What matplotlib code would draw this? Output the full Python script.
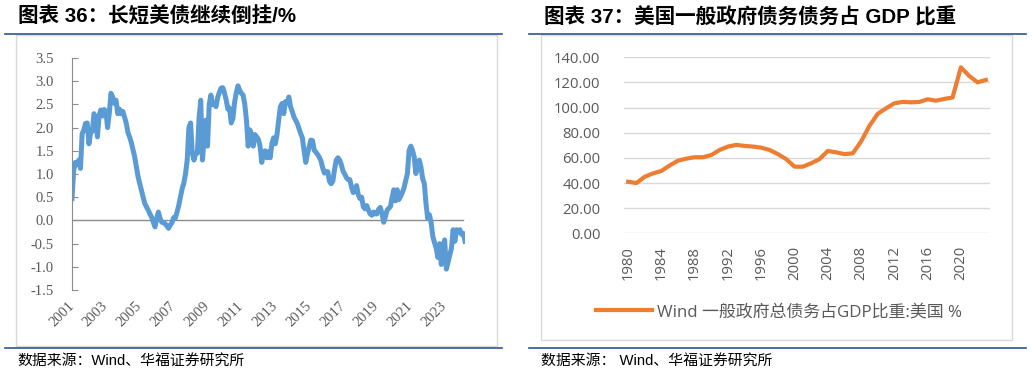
import numpy as np
import matplotlib
matplotlib.use("Agg")
import matplotlib.pyplot as plt
from matplotlib.lines import Line2D
from matplotlib.patches import Rectangle

# --- left chart: long-short treasury spread (%), sampled every 0.1 year from 2001.0
spread_start = 2001.0
spread_step = 0.1
spread = [
    0.47, 1.08, 1.25, 1.20, 1.30, 1.12, 1.87, 1.95, 2.09, 2.10,
    1.65, 1.90, 1.92, 2.30, 2.20, 1.80, 2.25, 2.38, 2.25, 2.39,
    2.35, 2.00, 2.30, 2.74, 2.66, 2.52, 2.59, 2.30, 2.40, 2.30,
    2.35, 2.23, 2.10, 1.90, 1.80, 1.68, 1.52, 1.37, 1.15, 0.94,
    0.79, 0.65, 0.50, 0.36, 0.29, 0.22, 0.14, 0.07, -0.04, -0.14,
    0.04, 0.18, 0.04, -0.04, -0.05, -0.07, -0.12, -0.17, -0.10, -0.05,
    0.06, 0.05, 0.18, 0.32, 0.50, 0.68, 0.80, 1.00, 1.30, 2.00,
    2.10, 1.45, 1.30, 1.45, 1.45, 2.20, 2.59, 1.30, 1.75, 2.16,
    1.60, 2.50, 2.70, 2.50, 2.50, 2.45, 2.65, 2.76, 2.85, 2.86,
    2.75, 2.60, 2.40, 2.42, 2.10, 2.20, 2.55, 2.75, 2.90, 2.80,
    2.74, 2.70, 2.50, 2.15, 1.60, 1.95, 1.85, 1.60, 1.85, 1.80,
    1.75, 1.60, 1.25, 1.45, 1.50, 1.35, 1.48, 1.35, 1.65, 1.78,
    1.65, 1.84, 2.16, 2.45, 2.52, 2.30, 2.56, 2.52, 2.66, 2.45,
    2.35, 2.23, 2.16, 2.09, 1.98, 1.87, 1.78, 1.50, 1.25, 1.44,
    1.58, 1.73, 1.72, 1.51, 1.47, 1.42, 1.36, 1.28, 1.13, 1.02,
    1.05, 1.05, 0.84, 0.79, 0.85, 1.10, 1.30, 1.35, 1.30, 1.20,
    1.06, 1.00, 0.92, 0.88, 0.88, 0.72, 0.60, 0.68, 0.75, 0.55,
    0.47, 0.50, 0.29, 0.25, 0.32, 0.22, 0.14, 0.11, 0.18, 0.14,
    0.14, 0.24, 0.28, 0.15, -0.04, 0.08, 0.22, 0.26, 0.30, 0.50,
    0.66, 0.42, 0.66, 0.45, 0.52, 0.60, 0.70, 0.86, 1.01, 1.51,
    1.60, 1.51, 1.37, 1.01, 1.22, 1.30, 1.15, 0.90, 0.79, 0.35,
    0.04, 0.12, -0.05, -0.35, -0.48, -0.60, -0.80, -0.50, -0.95, -0.60,
    -0.42, -1.05, -0.90, -0.75, -0.60, -0.20, -0.45, -0.20, -0.25, -0.20,
    -0.30, -0.28, -0.45,
]
left_ticks = list(range(2001, 2024, 2))

# --- right chart: US general government debt / GDP
debt_years = list(range(1980, 2024))
debt_ratio = [
    41.0, 40.0, 45.0, 47.7, 49.6, 54.0, 57.8, 59.4, 60.5, 60.5,
    62.3, 66.3, 69.0, 70.3, 69.5, 69.0, 68.1, 66.3, 63.0, 59.0,
    53.0, 53.0, 55.7, 59.0, 65.5, 64.4, 63.0, 63.6, 73.0, 85.4,
    95.0, 99.4, 103.4, 104.5, 104.2, 104.5, 106.6, 105.5, 106.9, 108.0,
    132.0, 125.2, 120.1, 122.0,
]
right_ticks = list(range(1980, 2021, 4))

W, H = 1032, 371
fig = plt.figure(figsize=(W / 100, H / 100), dpi=100)

def fx(px):
    return px / W

def fy(py):
    return 1 - py / H

cjk = ["Liberation Sans", "Noto Sans CJK SC"]
frame_blue = "#2F5496"
box_gray = "#D9D9D9"
label_gray = "#595959"

# frames, separators
for x0, x1 in [(5, 502), (529, 1026)]:
    for y in [34, 348]:
        fig.add_artist(Line2D([fx(x0), fx(x1)], [fy(y), fy(y)], color=frame_blue, lw=1.2))
fig.add_artist(Rectangle((fx(16), fy(346)), fx(497 - 16), (346 - 35) / H,
                         fill=False, edgecolor=box_gray, lw=1))
fig.add_artist(Rectangle((fx(541), fy(340)), fx(1012 - 541), (340 - 35) / H,
                         fill=False, edgecolor=box_gray, lw=1))

# titles and sources
fig.text(fx(18), fy(17), "图表 36：长短美债继续倒挂/%", family=cjk, weight="bold",
         fontsize=14.8, va="center", ha="left")
fig.text(fx(544), fy(17), "图表 37：美国一般政府债务债务占 GDP 比重", family=cjk, weight="bold",
         fontsize=14.8, va="center", ha="left")
fig.text(fx(17), fy(361), "数据来源：Wind、华福证券研究所", family=cjk,
         fontsize=10.7, va="center", ha="left")
fig.text(fx(541), fy(361), "数据来源： Wind、华福证券研究所", family=cjk,
         fontsize=10.7, va="center", ha="left")

# ---- left chart
ax1 = fig.add_axes([fx(72), fy(290), fx(465 - 72), (290 - 58) / H])
t = spread_start + spread_step * np.arange(len(spread))
ax1.plot(t, spread, color="#5B9BD5", lw=3.6, solid_joinstyle="round")
ax1.axhline(0, color="#8C8C8C", lw=1.0, xmax=(463 - 72) / (465 - 72), zorder=1)
ax1.set_xlim(2001, t[-1])
ax1.set_ylim(-1.5, 3.5)
ax1.set_yticks(np.arange(-1.5, 3.51, 0.5))
ax1.set_yticklabels([f"{v:.1f}" for v in np.arange(-1.5, 3.51, 0.5)])
ax1.set_xticks(left_ticks)
ax1.set_xticklabels([str(y) for y in left_ticks], rotation=45, ha="right",
                    rotation_mode="anchor", va="center")
for s in ["top", "right", "bottom"]:
    ax1.spines[s].set_visible(False)
ax1.spines["left"].set_color("#8C8C8C")
ax1.tick_params(axis="y", direction="in", length=4, color="#8C8C8C", pad=13,
                labelsize=10.5, labelcolor=label_gray)
ax1.tick_params(axis="x", length=0, pad=10, labelsize=10.5, labelcolor=label_gray)
for lab in ax1.get_xticklabels() + ax1.get_yticklabels():
    lab.set_family("Liberation Serif")

# ---- right chart
ax2 = fig.add_axes([fx(624), fy(233.3), fx(990 - 624), (233.3 - 57.3) / H])
xi = np.arange(len(debt_years))
ax2.plot(xi, debt_ratio, color="#ED7D31", lw=3.0, solid_joinstyle="round")
ax2.set_xlim(-0.5, len(debt_years) - 0.5)
ax2.set_ylim(0, 140)
ax2.set_yticks(np.arange(0, 141, 20))
ax2.set_yticklabels([f"{v:.2f}" for v in np.arange(0, 141, 20)])
ax2.set_xticks([debt_years.index(y) for y in right_ticks])
ax2.set_xticklabels([str(y) for y in right_ticks], rotation=90)
ax2.grid(axis="y", color=box_gray, lw=1.0)
ax2.set_axisbelow(True)
for s in ax2.spines.values():
    s.set_visible(False)
ax2.tick_params(axis="both", length=0, labelsize=10.7, labelcolor=label_gray)
ax2.tick_params(axis="y", pad=17)
ax2.tick_params(axis="x", pad=9)
for lab in ax2.get_xticklabels() + ax2.get_yticklabels():
    lab.set_family("Open Sans")

handle = Line2D([], [], color="#ED7D31", lw=3.0)
leg = fig.legend([handle], ["Wind 一般政府总债务占GDP比重:美国 %"], loc="center",
                 bbox_to_anchor=(fx(779), fy(312)), frameon=False, handlelength=3.3,
                 handletextpad=0.3,
                 prop={"family": ["Open Sans", "Noto Sans CJK SC"], "size": 12.2})
for txt in leg.get_texts():
    txt.set_color(label_gray)

fig.savefig("out.png", dpi=100)
